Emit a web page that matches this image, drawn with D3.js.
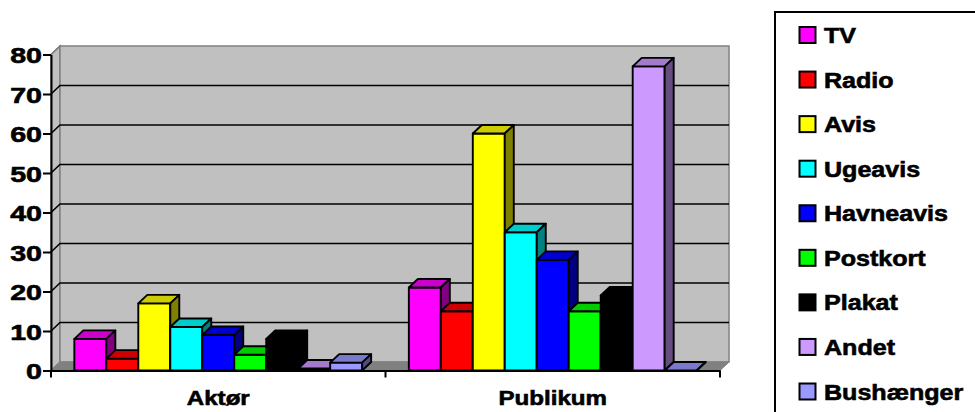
<!DOCTYPE html>
<html><head><meta charset="utf-8">
<script src="https://cdn.jsdelivr.net/npm/d3@7"></script>
<style>
html,body{margin:0;padding:0;background:#fff;}
svg{display:block;}
text{font-family:"Liberation Sans",Arial,sans-serif;font-weight:bold;fill:#000;stroke:#000;stroke-width:0.6px;paint-order:stroke;}
</style></head>
<body><div id="chart"></div>
<script>
const categories = ["Aktør", "Publikum"];
const series = ["TV", "Radio", "Avis", "Ugeavis", "Havneavis", "Postkort", "Plakat", "Andet", "Bushænger"];
const aktorValues = [8, 3, 17, 11, 9, 4, 8, 0.5, 2];
const publikumValues = [21, 15, 60, 35, 28, 15, 19, 77, 0];
const seriesColors = ["#FF00FF", "#FF0000", "#FFFF00", "#00FFFF", "#0000FF", "#00FF00", "#000000", "#CC99FF", "#9999FF"];
const yTicks = [0, 10, 20, 30, 40, 50, 60, 70, 80];

const valuesByCategory = [aktorValues, publikumValues];

const W = 975, H = 412;
const X0 = 51, X1 = 720, YB = 370.5, YT = 54.5, DX = 9, DY = -8.5;

const svg = d3.select("#chart").append("svg").attr("width", W).attr("height", H);

const y = d3.scaleLinear().domain([0, 80]).range([YB, YT]);
const x = d3.scaleBand().domain(categories).range([X0, X1]);
const xs = d3.scaleBand().domain(series).range([0, x.bandwidth()]).paddingOuter(0.73);

function shade(c, k) {
  const r = d3.rgb(c);
  return d3.rgb(r.r * k, r.g * k, r.b * k).formatHex();
}
const pts = a => a.map(p => p.join(",")).join(" ");

// walls
svg.append("polygon")
  .attr("points", pts([[X0, YT], [X0 + DX, YT + DY], [X0 + DX, YB + DY], [X0, YB]]))
  .attr("fill", "#C0C0C0").attr("stroke", "#808080").attr("stroke-width", 1.5);
svg.append("rect")
  .attr("x", X0 + DX).attr("y", YT + DY).attr("width", X1 - X0).attr("height", YB - YT)
  .attr("fill", "#C0C0C0").attr("stroke", "#808080").attr("stroke-width", 1.5);

// gridlines
svg.append("g").selectAll("path").data(yTicks.filter(t => t > 0 && t < 80)).join("path")
  .attr("d", t => `M${X0},${y(t)}L${X0 + DX},${y(t) + DY}L${X1 + DX},${y(t) + DY}`)
  .attr("fill", "none").attr("stroke", "#000").attr("stroke-width", 1.6);

// floor
svg.append("polygon")
  .attr("points", pts([[X0, YB], [X1, YB], [X1 + DX, YB + DY], [X0 + DX, YB + DY]]))
  .attr("fill", "#808080").attr("stroke", "#808080").attr("stroke-width", 1);

// bars
const gBars = svg.append("g").attr("stroke", "#000").attr("stroke-width", 1.9).attr("stroke-linejoin", "round");
categories.forEach((cat, ci) => {
  series.forEach((s, i) => {
    const v = valuesByCategory[ci][i];
    const x0 = x(cat) + xs(s), w = xs.bandwidth(), yt = y(v);
    const c = seriesColors[i];
    gBars.append("rect").attr("x", x0).attr("y", yt).attr("width", w).attr("height", YB - yt).attr("fill", c);
    gBars.append("polygon").attr("points", pts([[x0, yt], [x0 + DX, yt + DY], [x0 + w + DX, yt + DY], [x0 + w, yt]]))
      .attr("fill", shade(c, 0.8));
    gBars.append("polygon").attr("points", pts([[x0 + w, yt], [x0 + w + DX, yt + DY], [x0 + w + DX, YB + DY], [x0 + w, YB]]))
      .attr("fill", shade(c, 0.5));
  });
});

// side wall top edge
svg.append("line").attr("x1", X0).attr("y1", YT).attr("x2", X0 + DX).attr("y2", YT + DY)
  .attr("stroke", "#808080").attr("stroke-width", 1.5);

// y axis
const yAxis = svg.append("g").attr("transform", `translate(${X0},0)`)
  .call(d3.axisLeft(y).tickValues(yTicks).tickSize(8).tickPadding(9).tickSizeOuter(0));
yAxis.select(".domain").attr("stroke", "#000").attr("stroke-width", 2);
yAxis.selectAll(".tick line").attr("stroke", "#000").attr("stroke-width", 2);
yAxis.selectAll(".tick text")
  .attr("x", null).attr("dy", null)
  .attr("transform", "translate(-9,8) scale(1.3,1)")
  .style("font-size", "22px").style("font-family", "'Liberation Sans',Arial,sans-serif").style("font-weight", "bold")
  .attr("text-anchor", "end");

// x axis
const xAxis = svg.append("g").attr("transform", `translate(0,${YB})`)
  .call(d3.axisBottom(x).tickSize(0).tickPadding(14).tickSizeOuter(0));
xAxis.select(".domain").attr("stroke", "#000").attr("stroke-width", 2);
xAxis.selectAll(".tick text")
  .attr("dy", null).attr("y", null)
  .attr("transform", "translate(0,34) scale(1.15,1)")
  .style("font-size", "21px").style("font-family", "'Liberation Sans',Arial,sans-serif").style("font-weight", "bold");
const bounds = categories.map(c => x(c)).concat([X1]);
xAxis.selectAll(".sep").data(bounds).join("line").attr("class", "sep")
  .attr("x1", d => d).attr("x2", d => d).attr("y1", 0).attr("y2", 7)
  .attr("stroke", "#000").attr("stroke-width", 2);

// legend
const lg = svg.append("g");
lg.append("rect").attr("x", 775).attr("y", 12).attr("width", 260).attr("height", 460)
  .attr("fill", "#fff").attr("stroke", "#000").attr("stroke-width", 2);
const ly = d3.scalePoint().domain(series).range([35, 391.5]);
const items = lg.selectAll(".item").data(series).join("g").attr("class", "item")
  .attr("transform", d => `translate(0,${ly(d)})`);
items.append("rect").attr("x", 799.5).attr("y", -8).attr("width", 16).attr("height", 16)
  .attr("fill", (d, i) => seriesColors[i]).attr("stroke", "#000").attr("stroke-width", 2);
items.append("text").attr("transform", "translate(824,8) scale(1.14,1)")
  .style("font-size", "22px").text(d => d);
</script>
</body></html>
